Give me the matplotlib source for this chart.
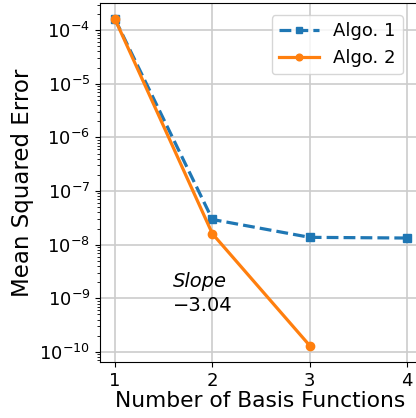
import matplotlib
matplotlib.use("Agg")
import matplotlib.pyplot as plt

x1 = [1, 2, 3, 4]
algo1 = [1.6e-4, 2.95e-8, 1.37e-8, 1.33e-8]
x2 = [1, 2, 3]
algo2 = [1.6e-4, 1.6e-8, 1.31e-10]
labels = ["Algo. 1", "Algo. 2"]
slope_label = "Slope"
slope_value = "\u22123.04"

fig = plt.figure(figsize=(4.16, 4.18), dpi=100)
W, H = 416, 418
ax = fig.add_axes([100 / W, 1 - 362 / H, 321 / W, 359 / H])

ax.plot(x1, algo1, ls="--", marker="s", color="#1f77b4", lw=2.3, ms=6, label=labels[0])
ax.plot(x2, algo2, ls="-", marker="o", color="#ff7f0e", lw=2.3, ms=6, label=labels[1])
ax.set_yscale("log")
ax.set_xlim(0.846, 4.142)
ax.set_ylim(6.5e-11, 3.2e-4)
ax.set_xticks([1, 2, 3, 4])
ax.grid(True, which="major", color="#cccccc", lw=1.2)
ax.tick_params(labelsize=13)
ax.set_xlabel("Number of Basis Functions", fontsize=15.7, labelpad=1)
ax.set_ylabel("Mean Squared Error", fontsize=16.5, labelpad=4)
ax.text(1.595, 1.35e-9, slope_label, fontsize=14, style="italic", va="bottom")
ax.text(1.595, 1.1e-9, slope_value, fontsize=14, va="top")
ax.legend(loc="upper right", fontsize=13, markerscale=0.8, handlelength=2.2,
          bbox_to_anchor=(312 / 321, 0.992))

fig.savefig("out.png", dpi=100)
